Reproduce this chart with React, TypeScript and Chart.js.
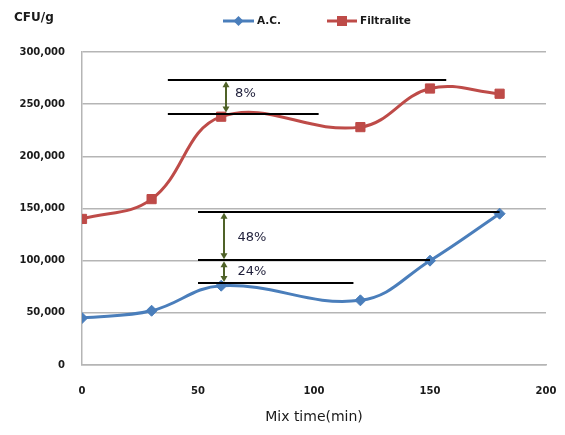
import React, { useEffect, useRef } from 'react';
import { Chart, registerables } from 'chart.js';

Chart.register(...registerables);

const mixTimes = [0, 30, 60, 120, 150, 180];
const acValues = [45000, 52000, 76000, 62000, 100000, 145000];
const filtraliteValues = [140000, 159000, 238000, 228000, 265000, 260000];
const seriesNames = ['A.C.', 'Filtralite'];
const yAxisLabel = 'CFU/g';
const xAxisTitle = 'Mix time(min)';

// reference lines (data coordinates)
const refLineY = [273000, 241000, 147000, 100500, 78500];
const refLineStart = [37, 37, 50, 50, 50];
const refLineEnd = [157, 102, 180, 150, 117];

// gap arrows and labels (data coordinates)
const gapLabels = ['8%', '48%', '24%'];
const gapTop = [273000, 147000, 100500];
const gapBottom = [241000, 100500, 78500];
const gapArrowX = [62, 61, 61];
const gapLabelX = [66, 67, 67];
const gapLabelY = [260500, 121700, 89100];

const BLUE = '#4A7EBB';
const RED = '#BE4B48';
const ARROW = '#4F6228';
const GRID = '#B5B5B5';
const TEXT = '#1a1a1a';

const overlayPlugin = {
  id: 'overlay',
  afterDatasetsDraw(chart: any) {
    const { ctx, scales } = chart;
    const xs = scales.x;
    const ys = scales.y;
    ctx.save();
    ctx.strokeStyle = '#000000';
    ctx.lineWidth = 2;
    refLineY.forEach((v, i) => {
      const y = Math.round(ys.getPixelForValue(v));
      ctx.beginPath();
      ctx.moveTo(xs.getPixelForValue(refLineStart[i]), y);
      ctx.lineTo(xs.getPixelForValue(refLineEnd[i]), y);
      ctx.stroke();
    });
    ctx.strokeStyle = ARROW;
    ctx.fillStyle = ARROW;
    ctx.lineWidth = 2;
    gapLabels.forEach((_, i) => {
      const x = Math.round(xs.getPixelForValue(gapArrowX[i]));
      const y1 = ys.getPixelForValue(gapTop[i]) + 1;
      const y2 = ys.getPixelForValue(gapBottom[i]) - 1;
      const h = 6;
      const w = 3.5;
      ctx.beginPath();
      ctx.moveTo(x, y1 + h - 1);
      ctx.lineTo(x, y2 - h + 1);
      ctx.stroke();
      ctx.beginPath();
      ctx.moveTo(x, y1);
      ctx.lineTo(x - w, y1 + h);
      ctx.lineTo(x + w, y1 + h);
      ctx.closePath();
      ctx.fill();
      ctx.beginPath();
      ctx.moveTo(x, y2);
      ctx.lineTo(x - w, y2 - h);
      ctx.lineTo(x + w, y2 - h);
      ctx.closePath();
      ctx.fill();
    });
    ctx.fillStyle = '#1F1F3A';
    ctx.font = '13px "DejaVu Sans"';
    ctx.textAlign = 'left';
    ctx.textBaseline = 'middle';
    gapLabels.forEach((t, i) => {
      ctx.fillText(t, xs.getPixelForValue(gapLabelX[i]), ys.getPixelForValue(gapLabelY[i]));
    });
    ctx.restore();
  },
  afterDraw(chart: any) {
    const { ctx } = chart;
    ctx.save();
    ctx.fillStyle = TEXT;
    ctx.font = 'bold 12px "DejaVu Sans"';
    ctx.textAlign = 'left';
    ctx.textBaseline = 'middle';
    ctx.fillText(yAxisLabel, 14, 18);
    const items = [
      { name: seriesNames[0], color: BLUE, style: 'diamond', x0: 223, x1: 254, tx: 257 },
      { name: seriesNames[1], color: RED, style: 'square', x0: 327, x1: 357, tx: 360 },
    ];
    const ly = 21;
    items.forEach((it) => {
      ctx.strokeStyle = it.color;
      ctx.fillStyle = it.color;
      ctx.lineWidth = 3;
      ctx.beginPath();
      ctx.moveTo(it.x0, ly);
      ctx.lineTo(it.x1, ly);
      ctx.stroke();
      const cx = (it.x0 + it.x1) / 2;
      ctx.beginPath();
      if (it.style === 'diamond') {
        ctx.moveTo(cx, ly - 5);
        ctx.lineTo(cx + 5, ly);
        ctx.lineTo(cx, ly + 5);
        ctx.lineTo(cx - 5, ly);
        ctx.closePath();
      } else {
        ctx.rect(cx - 5, ly - 5, 10, 10);
      }
      ctx.fill();
      ctx.fillStyle = TEXT;
      ctx.font = 'bold 10.5px "DejaVu Sans"';
      ctx.fillText(it.name, it.tx, ly);
    });
    ctx.restore();
  },
};

export default function App() {
  const ref = useRef<HTMLCanvasElement | null>(null);
  useEffect(() => {
    if (!ref.current) return;
    const chart = new Chart(ref.current, {
      type: 'line',
      data: {
        datasets: [
          {
            label: seriesNames[0],
            data: mixTimes.map((x, i) => ({ x, y: acValues[i] })),
            borderColor: BLUE,
            backgroundColor: BLUE,
            borderWidth: 3,
            pointStyle: 'rectRot',
            pointRadius: 5.5,
            pointBorderWidth: 1,
            tension: 0.4,
            fill: false,
          },
          {
            label: seriesNames[1],
            data: mixTimes.map((x, i) => ({ x, y: filtraliteValues[i] })),
            borderColor: RED,
            backgroundColor: RED,
            borderWidth: 3,
            pointStyle: 'rect',
            pointRadius: 6.5,
            pointBorderWidth: 1,
            tension: 0.4,
            fill: false,
          },
        ],
      },
      options: {
        responsive: false,
        animation: false,
        layout: { padding: { top: 52, right: 19, left: 0, bottom: 0 } },
        plugins: {
          legend: { display: false },
          tooltip: { enabled: false },
        },
        scales: {
          x: {
            type: 'linear',
            min: 0,
            max: 200,
            ticks: {
              stepSize: 50,
              padding: 2,
              color: TEXT,
              font: { family: 'DejaVu Sans', size: 10, weight: 'bold' },
            },
            grid: { display: false, drawTicks: true, tickLength: 18 },
            border: { display: true, color: GRID, width: 1.5 },
            title: {
              display: true,
              text: xAxisTitle,
              color: TEXT,
              font: { family: 'DejaVu Sans', size: 14 },
              padding: { top: 0, bottom: 9 },
            },
            afterFit: (s: any) => {
              s.height = 70;
            },
          },
          y: {
            min: 0,
            max: 300000,
            ticks: {
              stepSize: 50000,
              padding: 17,
              color: TEXT,
              font: { family: 'DejaVu Sans', size: 10, weight: 'bold' },
              callback: (v: any) => Number(v).toLocaleString('en-US'),
            },
            grid: { color: GRID, lineWidth: 1.5, drawTicks: false },
            border: { display: true, color: GRID, width: 1.5 },
            afterFit: (s: any) => {
              s.width = 82;
            },
          },
        },
      },
      plugins: [overlayPlugin],
    });
    return () => chart.destroy();
  }, []);
  return (
    <div style={{ position: 'absolute', left: 0, top: 0, width: 565, height: 435, background: '#fff' }}>
      <canvas ref={ref} width={565} height={435} />
    </div>
  );
}
